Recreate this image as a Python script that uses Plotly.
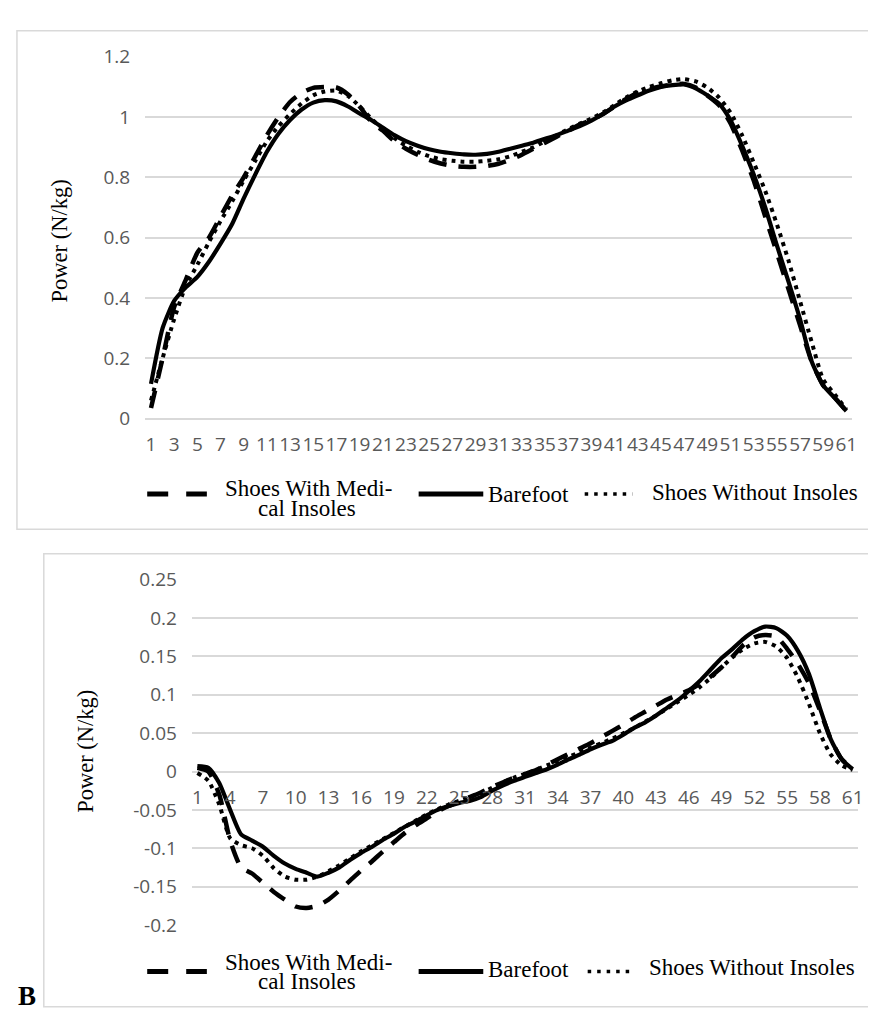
import plotly.graph_objects as go

W, H = 876, 1014

# ---------------- data ----------------
frames = list(range(1, 62))

top_medical = [0.035, 0.20, 0.37, 0.46, 0.55, 0.60, 0.67, 0.74, 0.80, 0.87,
               0.94, 1.00, 1.05, 1.08, 1.097, 1.10, 1.098, 1.075, 1.035, 0.985,
               0.955, 0.92, 0.895, 0.875, 0.858, 0.846, 0.838, 0.835, 0.835, 0.838,
               0.845, 0.858, 0.875, 0.895, 0.915, 0.935, 0.955, 0.975, 0.99, 1.01,
               1.035, 1.06, 1.08, 1.092, 1.102, 1.108, 1.11, 1.098, 1.072, 1.04,
               0.98, 0.89, 0.79, 0.67, 0.55, 0.43, 0.31, 0.19, 0.11, 0.07, 0.025]

top_barefoot = [0.115, 0.30, 0.39, 0.435, 0.47, 0.52, 0.58, 0.645, 0.73, 0.81,
                0.885, 0.945, 0.99, 1.025, 1.048, 1.056, 1.052, 1.035, 1.012, 0.99,
                0.965, 0.94, 0.92, 0.905, 0.893, 0.885, 0.88, 0.876, 0.875, 0.878,
                0.885, 0.895, 0.905, 0.915, 0.928, 0.94, 0.955, 0.97, 0.988, 1.01,
                1.035, 1.055, 1.072, 1.088, 1.10, 1.106, 1.108, 1.095, 1.072, 1.045,
                0.99, 0.905, 0.81, 0.70, 0.575, 0.455, 0.33, 0.19, 0.11, 0.068, 0.025]

top_without = [0.06, 0.20, 0.33, 0.44, 0.51, 0.585, 0.655, 0.72, 0.79, 0.855,
               0.92, 0.97, 1.01, 1.045, 1.072, 1.085, 1.088, 1.07, 1.035, 0.995,
               0.96, 0.93, 0.905, 0.885, 0.87, 0.86, 0.855, 0.852, 0.852, 0.855,
               0.86, 0.87, 0.885, 0.90, 0.92, 0.94, 0.96, 0.978, 0.995, 1.015,
               1.04, 1.065, 1.085, 1.10, 1.112, 1.122, 1.126, 1.118, 1.098, 1.065,
               1.015, 0.94, 0.85, 0.755, 0.645, 0.525, 0.39, 0.255, 0.13, 0.08, 0.03]

bottom_medical = [0.005, 0.0, -0.03, -0.09, -0.125, -0.133, -0.145, -0.157, -0.167, -0.176,
                  -0.178, -0.175, -0.167, -0.155, -0.142, -0.129, -0.117, -0.104, -0.092, -0.08,
                  -0.07, -0.061, -0.052, -0.045, -0.039, -0.033, -0.027, -0.02, -0.014, -0.008,
                  -0.003, 0.002, 0.009, 0.016, 0.023, 0.03, 0.037, 0.045, 0.053, 0.061,
                  0.07, 0.078, 0.086, 0.094, 0.10, 0.106, 0.114, 0.124, 0.136, 0.15,
                  0.165, 0.175, 0.178, 0.176, 0.16, 0.14, 0.115, 0.08, 0.042, 0.016, 0.003]

bottom_barefoot = [0.007, 0.005, -0.015, -0.05, -0.082, -0.09, -0.098, -0.11, -0.12, -0.127,
                   -0.132, -0.137, -0.132, -0.125, -0.115, -0.106, -0.098, -0.089, -0.081, -0.072,
                   -0.065, -0.057, -0.05, -0.045, -0.041, -0.038, -0.033, -0.025, -0.018, -0.012,
                   -0.007, -0.002, 0.003, 0.009, 0.016, 0.022, 0.029, 0.035, 0.04, 0.048,
                   0.057, 0.064, 0.073, 0.083, 0.093, 0.105, 0.118, 0.133, 0.148, 0.16,
                   0.173, 0.183, 0.189, 0.187, 0.177, 0.157, 0.127, 0.083, 0.042, 0.016, 0.003]

bottom_without = [-0.002, -0.012, -0.043, -0.087, -0.096, -0.10, -0.11, -0.126, -0.137, -0.141,
                  -0.141, -0.137, -0.13, -0.122, -0.113, -0.104, -0.096, -0.088, -0.08, -0.072,
                  -0.064, -0.056, -0.049, -0.043, -0.038, -0.033, -0.028, -0.021, -0.014, -0.008,
                  -0.003, 0.002, 0.008, 0.013, 0.019, 0.025, 0.031, 0.037, 0.043, 0.05,
                  0.057, 0.065, 0.073, 0.082, 0.091, 0.10, 0.11, 0.122, 0.136, 0.149,
                  0.16, 0.167, 0.169, 0.163, 0.148, 0.122, 0.088, 0.05, 0.022, 0.008, 0.002]

top_xticks = list(range(1, 62, 2))
top_xticktext = [str(v) for v in top_xticks]
bottom_xticks = list(range(1, 62, 3))
bottom_xticktext = [str(v) for v in bottom_xticks]

top_yticks = [0, 0.2, 0.4, 0.6, 0.8, 1.0, 1.2]
top_yticktext = ["0", "0.2", "0.4", "0.6", "0.8", "1", "1.2"]
bottom_yticks = [-0.2, -0.15, -0.1, -0.05, 0, 0.05, 0.1, 0.15, 0.2, 0.25]
bottom_yticktext = ["-0.2", "-0.15", "-0.1", "-0.05", "0", "0.05", "0.1", "0.15", "0.2", "0.25"]

series_names = ["Shoes With Medical Insoles", "Barefoot", "Shoes Without Insoles"]
y_title = "Power (N/kg)"

# ---------------- layout helpers ----------------
def px(x):
    return x / W

def py(y):
    return 1 - y / H

GRID = "#d9d9d9"
TICKFONT = dict(family="Open Sans", size=19, color="#595959")
SERIF = "Liberation Serif"

styles = [
    dict(color="black", width=4.5, dash="18px,12px"),
    dict(color="black", width=4.2),
    dict(color="black", width=4, dash="4px,5px"),
]

fig = go.Figure()

for name, ys, st in zip(series_names, [top_medical, top_barefoot, top_without], styles):
    fig.add_trace(go.Scatter(x=frames, y=ys, mode="lines", name=name,
                             line=dict(shape="spline", smoothing=0.6, **st),
                             xaxis="x", yaxis="y", showlegend=False, hoverinfo="skip"))

for name, ys, st in zip(series_names, [bottom_medical, bottom_barefoot, bottom_without], styles):
    fig.add_trace(go.Scatter(x=frames, y=ys, mode="lines", name=name,
                             line=dict(shape="spline", smoothing=0.6, **st),
                             xaxis="x2", yaxis="y2", showlegend=False, hoverinfo="skip"))

# domains
top_y_dom = [py(408), py(36.7)]
bot_y_dom = [py(927.7), py(573.5)]
bot_yrange = [-0.2, 0.25]
zero_pos = bot_y_dom[0] + (0 - bot_yrange[0]) / (bot_yrange[1] - bot_yrange[0]) * (bot_y_dom[1] - bot_y_dom[0])

fig.update_layout(
    width=W, height=H,
    margin=dict(l=0, r=0, t=0, b=0),
    paper_bgcolor="white", plot_bgcolor="white",
    font=dict(family="Open Sans"),
    xaxis=dict(domain=[px(138), px(849)], range=[0.5, 61.5], anchor="y",
               tickvals=top_xticks, ticktext=top_xticktext, tickfont=TICKFONT,
               showgrid=False, zeroline=False, showline=False, ticks="",
               ticklabelstandoff=12, tickangle=0),
    yaxis=dict(domain=top_y_dom, range=[0, 1.2], anchor="x",
               tickvals=top_yticks, ticktext=top_yticktext, tickfont=TICKFONT,
               showgrid=True, gridcolor=GRID, gridwidth=1.5,
               zeroline=True, zerolinecolor=GRID, zerolinewidth=1.5,
               showline=False, ticks="", ticklabelstandoff=14),
    xaxis2=dict(domain=[px(185), px(855)], range=[0.5, 61.5], anchor="free", position=zero_pos,
                tickvals=bottom_xticks, ticktext=bottom_xticktext, tickfont=TICKFONT,
                showgrid=False, zeroline=False, showline=False, ticks="",
                ticklabelstandoff=12, tickangle=0),
    yaxis2=dict(domain=bot_y_dom, range=bot_yrange, anchor="x2",
                tickvals=bottom_yticks, ticktext=bottom_yticktext, tickfont=TICKFONT,
                showgrid=True, gridcolor=GRID, gridwidth=1.5,
                zeroline=True, zerolinecolor=GRID, zerolinewidth=1.5,
                showline=False, ticks="", ticklabelstandoff=14),
)

shapes = []
# chart frames
shapes.append(dict(type="rect", xref="paper", yref="paper", x0=px(9), x1=px(880),
                   y0=py(521.5), y1=py(10), line=dict(color=GRID, width=1.5), layer="below"))
shapes.append(dict(type="rect", xref="paper", yref="paper", x0=px(36), x1=px(880),
                   y0=py(1011.7), y1=py(546.7), line=dict(color=GRID, width=1.5), layer="below"))

annotations = []

def add_legend(y_line, y_l1, y_l2, y_txt_bf, y_txt_wo, x_dot0, x_dot1, x_wo):
    shapes.append(dict(type="line", xref="paper", yref="paper", x0=px(140), x1=px(200),
                       y0=py(y_line), y1=py(y_line),
                       line=dict(color="black", width=5, dash="21px,18px")))
    shapes.append(dict(type="line", xref="paper", yref="paper", x0=px(413), x1=px(478),
                       y0=py(y_line), y1=py(y_line), line=dict(color="black", width=5)))
    shapes.append(dict(type="line", xref="paper", yref="paper", x0=px(x_dot0), x1=px(x_dot1),
                       y0=py(y_line), y1=py(y_line),
                       line=dict(color="black", width=3.5, dash="3.5px,6px")))
    lf = dict(family=SERIF, size=23, color="black")
    annotations.append(dict(text="Shoes With Medi-", x=px(302), y=py(y_l1), xref="paper", yref="paper",
                            xanchor="center", yanchor="middle", showarrow=False, font=lf))
    annotations.append(dict(text="cal Insoles", x=px(301), y=py(y_l2), xref="paper", yref="paper",
                            xanchor="center", yanchor="middle", showarrow=False, font=lf))
    annotations.append(dict(text="Barefoot", x=px(481), y=py(y_txt_bf), xref="paper", yref="paper",
                            xanchor="left", yanchor="middle", showarrow=False, font=lf))
    annotations.append(dict(text="Shoes Without Insoles", x=px(x_wo), y=py(y_txt_wo), xref="paper",
                            yref="paper", xanchor="left", yanchor="middle", showarrow=False, font=lf))

add_legend(485.5, 480, 500, 486, 484, 580, 628, 646)
add_legend(975.5, 966, 986, 973, 971, 583, 630, 643)

# y axis titles
annotations.append(dict(text=y_title, x=px(52), y=py(225.5), xref="paper", yref="paper",
                        textangle=-90, showarrow=False, xanchor="center", yanchor="middle",
                        font=dict(family=SERIF, size=22.5, color="black")))
annotations.append(dict(text=y_title, x=px(78), y=py(749.5), xref="paper", yref="paper",
                        textangle=-90, showarrow=False, xanchor="center", yanchor="middle",
                        font=dict(family=SERIF, size=22.5, color="black")))
# panel letter
annotations.append(dict(text="<b>B</b>", x=px(19), y=py(1001), xref="paper", yref="paper",
                        showarrow=False, xanchor="center", yanchor="middle",
                        font=dict(family=SERIF, size=27, color="black")))

fig.update_layout(shapes=shapes, annotations=annotations)

fig.write_html("out.html")
